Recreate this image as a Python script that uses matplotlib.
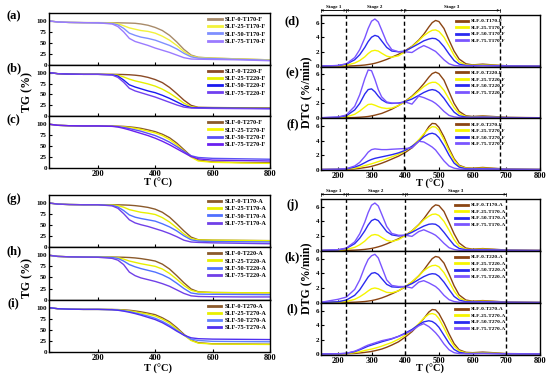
import matplotlib
matplotlib.use("Agg")
import matplotlib.pyplot as plt

plt.rcParams['font.family'] = ['Liberation Serif', 'DejaVu Serif']
plt.rcParams['font.weight'] = 'bold'

W, H = 550, 379

# temperature grids (°C)
tg_t = [30, 60, 100, 150, 200, 250, 270, 290, 310, 330, 350, 375, 400, 425, 450,
        475, 500, 525, 550, 600, 700, 800]
dtg_t = [150, 200, 225, 250, 265, 280, 290, 300, 310, 320, 330, 345, 360, 380, 400,
         420, 440, 455, 470, 480, 490, 500, 515, 530, 545, 560, 580, 600, 630, 660,
         700, 800]

# TG (%) curves, order: SLF-0, SLF-25, SLF-50, SLF-75
tg_a = [[100, 97.5, 96.5, 96, 96, 95.8, 95.6, 95.3, 95, 94.5, 93, 90, 85, 78, 67, 52, 35, 22, 17, 15, 13, 11],
        [100, 97.5, 96.5, 96, 96, 95, 93.5, 89, 84, 81, 78, 76, 72, 65, 56, 44, 30, 20, 16.5, 15, 13, 11],
        [100, 97.5, 96.5, 96, 95.5, 94, 91, 83, 72, 67, 63, 60, 56, 50, 44, 36, 26, 18, 15, 14, 12, 10],
        [100, 97.5, 96.5, 96, 95.5, 93, 87, 75, 60, 53, 49, 44, 38, 33, 28, 22, 16, 13, 12.5, 12, 11, 9]]
tg_b = [[100, 97.5, 96.5, 96, 96, 96, 95.8, 95.5, 95, 94, 92.5, 89, 84, 77, 66, 52, 37, 25, 20.5, 20, 19.5, 19],
        [100, 97.5, 96.5, 96, 96, 95.5, 94, 90, 85, 81, 78, 74, 69, 62, 53, 42, 30, 22, 20, 19.5, 19, 18.5],
        [100, 97.5, 96.5, 96, 96, 95, 92, 83, 72, 67, 63, 58, 54, 48, 41, 33, 25, 20, 19.5, 19, 18.5, 18],
        [100, 97.5, 96.5, 96, 96, 94.5, 89, 78, 64, 58, 54, 49, 44, 38, 32, 26, 21, 19, 18.5, 18, 17.5, 17]]
tg_c = [[100, 97.5, 96.5, 96, 96, 95.8, 95.5, 95, 94, 92.5, 90.5, 87, 83, 77, 69, 57, 42, 27, 18, 14, 12.5, 12],
        [100, 97.5, 96.5, 96, 96, 95.5, 95, 94, 92.5, 90.5, 88, 84, 80, 74, 65, 53, 39, 25, 16, 13, 11.5, 10.5],
        [100, 97.5, 96.5, 96, 96, 95.5, 94.5, 92.5, 90, 87, 84, 79, 74, 67, 59, 49, 38, 28, 24, 22, 21, 20],
        [100, 97.5, 96.5, 96, 96, 95, 93.5, 90.5, 87, 83, 79, 74, 68, 61, 53, 44, 35, 26, 21, 18, 17, 16]]
tg_g = [[100, 97.5, 96.5, 96, 96, 96, 95.8, 95.5, 95, 94, 92.5, 90, 86, 79, 68, 53, 37, 23, 17, 16, 15.5, 15],
        [100, 97.5, 96.5, 96, 96, 95.5, 94, 90.5, 85, 82, 79, 77, 74, 67, 57, 44, 30, 20, 16.5, 16, 15.5, 15],
        [100, 97.5, 96.5, 96, 96, 94.5, 91, 83, 73, 68, 65, 62, 59, 53, 46, 37, 26, 17, 14, 13, 12.5, 12],
        [100, 97.5, 96.5, 96, 96, 93.5, 88, 76, 62, 55, 51, 47, 42, 37, 31, 24, 16, 12, 11, 10, 9, 8]]
tg_h = [[100, 97.5, 96.5, 96, 96, 96, 95.8, 95.5, 95, 94, 92.5, 90, 87, 80, 69, 54, 38, 24, 17.5, 16, 15.5, 15.5],
        [100, 97.5, 96.5, 96, 96, 95.5, 94.5, 91.5, 87, 84, 81, 78, 75, 69, 59, 46, 32, 21, 17, 16, 15.5, 15.5],
        [100, 97.5, 96.5, 96, 96, 95, 93, 87, 79, 74, 70, 66, 62, 56, 48, 37, 25, 15, 12.5, 12, 11.5, 11],
        [100, 97.5, 96.5, 96, 95.5, 93, 89, 79, 62, 54, 49, 45, 41, 36, 30, 22, 14, 8.5, 7, 6.5, 6, 6]]
tg_i = [[100, 97.5, 96.5, 96, 96, 95.8, 95.5, 95, 94, 92.5, 90.5, 87.5, 84, 77, 68, 55, 40, 27, 21, 18.5, 18, 17.5],
        [100, 97.5, 96.5, 96, 96, 95.5, 95, 94, 92.5, 90.5, 88, 85, 81, 74, 65, 52, 38, 26, 20, 18, 17.5, 17],
        [100, 97.5, 96.5, 96, 96, 95.5, 94.5, 93, 91, 88, 85, 81, 76, 69, 60, 49, 38, 29, 26, 24, 23.5, 23],
        [100, 97.5, 96.5, 96, 96, 95, 94, 92, 89.5, 86.5, 83, 78, 73, 66, 57, 47, 38, 32, 30, 29, 28.5, 28]]

# DTG (%/min) curves, order: SLF-0, SLF-25, SLF-50, SLF-75
dtg_d = [[0.02, 0.02, 0.03, 0.08, 0.12, 0.18, 0.25, 0.32, 0.42, 0.55, 0.7, 0.95, 1.25, 1.65, 2.15, 2.75, 3.6, 4.4, 5.4, 6.0, 6.3, 6.15, 5.2, 3.6, 2.1, 1.0, 0.35, 0.2, 0.3, 0.2, 0.08, 0.03],
         [0.02, 0.05, 0.15, 0.45, 0.8, 1.3, 1.75, 2.1, 2.2, 2.1, 1.8, 1.4, 1.25, 1.45, 2.0, 2.7, 3.5, 4.2, 4.7, 4.95, 5.0, 4.8, 4.0, 2.8, 1.5, 0.6, 0.2, 0.15, 0.2, 0.15, 0.05, 0.02],
         [0.03, 0.1, 0.3, 0.9, 1.6, 2.6, 3.4, 4.0, 4.25, 4.1, 3.5, 2.6, 2.1, 2.0, 2.1, 2.6, 3.1, 3.5, 3.75, 3.85, 3.8, 3.5, 2.7, 1.7, 0.8, 0.3, 0.12, 0.1, 0.12, 0.1, 0.05, 0.02],
         [0.03, 0.12, 0.35, 1.2, 2.3, 3.9, 5.2, 6.2, 6.5, 6.1, 5.0, 3.3, 2.3, 2.0, 2.0, 1.9, 2.5, 2.85, 2.55, 2.3, 2.05, 1.6, 0.9, 0.35, 0.12, 0.06, 0.05, 0.05, 0.08, 0.06, 0.04, 0.02]]
dtg_e = [[0.02, 0.02, 0.03, 0.06, 0.1, 0.15, 0.2, 0.28, 0.38, 0.5, 0.62, 0.9, 1.2, 1.7, 2.3, 3.0, 3.9, 4.7, 5.6, 6.1, 6.3, 6.1, 5.2, 3.6, 2.0, 0.9, 0.3, 0.2, 0.28, 0.2, 0.08, 0.03],
         [0.02, 0.05, 0.15, 0.5, 0.95, 1.5, 1.85, 1.9, 1.75, 1.55, 1.4, 1.3, 1.35, 1.7, 2.25, 2.9, 3.7, 4.3, 4.75, 4.9, 4.9, 4.6, 3.8, 2.6, 1.4, 0.6, 0.2, 0.15, 0.2, 0.15, 0.05, 0.02],
         [0.03, 0.1, 0.3, 1.1, 2.0, 3.3, 3.9, 4.0, 3.6, 3.0, 2.5, 2.1, 2.0, 2.05, 2.25, 2.6, 3.1, 3.5, 3.8, 3.9, 3.8, 3.5, 2.7, 1.7, 0.8, 0.3, 0.12, 0.1, 0.12, 0.1, 0.05, 0.02],
         [0.03, 0.12, 0.4, 1.6, 3.2, 5.4, 6.6, 6.5, 5.3, 3.9, 2.9, 2.2, 2.05, 2.0, 2.2, 1.9, 3.0, 2.8, 2.5, 2.3, 2.0, 1.6, 0.9, 0.35, 0.15, 0.06, 0.05, 0.05, 0.08, 0.06, 0.04, 0.02]]
dtg_f = [[0.02, 0.03, 0.05, 0.1, 0.18, 0.28, 0.35, 0.45, 0.58, 0.72, 0.88, 1.15, 1.45, 1.85, 2.35, 3.0, 3.9, 4.8, 5.9, 6.35, 6.3, 5.8, 4.5, 2.9, 1.5, 0.6, 0.25, 0.2, 0.3, 0.2, 0.08, 0.03],
         [0.02, 0.04, 0.08, 0.2, 0.35, 0.55, 0.68, 0.8, 0.95, 1.1, 1.25, 1.5, 1.75, 2.1, 2.55, 3.2, 4.1, 4.9, 5.6, 5.9, 5.85, 5.4, 4.1, 2.6, 1.3, 0.5, 0.2, 0.15, 0.2, 0.15, 0.05, 0.02],
         [0.02, 0.05, 0.1, 0.35, 0.6, 0.95, 1.2, 1.4, 1.55, 1.65, 1.75, 1.9, 2.05, 2.3, 2.65, 3.2, 3.9, 4.5, 4.9, 5.0, 4.85, 4.4, 3.3, 2.0, 0.9, 0.35, 0.12, 0.1, 0.12, 0.1, 0.05, 0.02],
         [0.02, 0.05, 0.12, 0.5, 1.0, 1.8, 2.4, 2.75, 2.85, 2.8, 2.75, 2.75, 2.8, 2.85, 2.9, 3.0, 3.9, 3.8, 3.4, 3.1, 2.7, 2.1, 1.2, 0.5, 0.2, 0.08, 0.05, 0.05, 0.08, 0.06, 0.04, 0.02]]
dtg_j = [[0.02, 0.02, 0.03, 0.07, 0.11, 0.17, 0.23, 0.3, 0.4, 0.52, 0.66, 0.92, 1.22, 1.62, 2.1, 2.7, 3.55, 4.35, 5.3, 5.9, 6.25, 6.15, 5.35, 3.85, 2.3, 1.05, 0.35, 0.2, 0.28, 0.2, 0.08, 0.03],
         [0.02, 0.05, 0.15, 0.45, 0.8, 1.3, 1.75, 2.1, 2.2, 2.1, 1.8, 1.4, 1.25, 1.5, 2.05, 2.7, 3.5, 4.2, 4.7, 4.95, 5.0, 4.8, 4.0, 2.8, 1.5, 0.6, 0.2, 0.15, 0.2, 0.15, 0.05, 0.02],
         [0.03, 0.1, 0.3, 0.95, 1.7, 2.7, 3.5, 4.1, 4.3, 4.1, 3.5, 2.6, 2.15, 2.0, 2.1, 2.5, 3.0, 3.35, 3.6, 3.65, 3.6, 3.3, 2.5, 1.6, 0.75, 0.3, 0.12, 0.1, 0.12, 0.1, 0.05, 0.02],
         [0.03, 0.12, 0.35, 1.2, 2.3, 3.9, 5.2, 6.2, 6.5, 6.1, 5.0, 3.3, 2.35, 2.1, 2.1, 1.95, 2.6, 2.85, 2.55, 2.35, 2.1, 1.7, 1.0, 0.4, 0.15, 0.06, 0.05, 0.05, 0.08, 0.06, 0.04, 0.02]]
dtg_k = [[0.02, 0.02, 0.03, 0.06, 0.1, 0.15, 0.21, 0.28, 0.38, 0.5, 0.64, 0.9, 1.2, 1.62, 2.15, 2.8, 3.65, 4.45, 5.4, 6.0, 6.3, 6.2, 5.4, 3.9, 2.3, 1.05, 0.35, 0.2, 0.28, 0.2, 0.08, 0.03],
         [0.02, 0.05, 0.15, 0.45, 0.8, 1.25, 1.6, 1.9, 2.0, 1.9, 1.7, 1.4, 1.35, 1.6, 2.2, 2.85, 3.65, 4.35, 4.85, 5.05, 5.1, 4.9, 4.1, 2.9, 1.6, 0.65, 0.2, 0.15, 0.2, 0.15, 0.05, 0.02],
         [0.03, 0.12, 0.35, 1.0, 1.75, 2.8, 3.5, 4.0, 4.1, 3.85, 3.3, 2.5, 2.15, 2.1, 2.2, 2.6, 3.15, 3.55, 3.85, 3.95, 3.9, 3.6, 2.8, 1.8, 0.85, 0.35, 0.12, 0.1, 0.12, 0.1, 0.05, 0.02],
         [0.05, 0.45, 0.75, 1.8, 3.1, 4.9, 5.9, 6.4, 6.6, 6.1, 4.9, 3.1, 2.35, 2.2, 2.2, 2.0, 2.8, 3.0, 2.7, 2.45, 2.2, 1.8, 1.0, 0.4, 0.15, 0.06, 0.05, 0.05, 0.08, 0.06, 0.04, 0.02]]
dtg_l = [[0.02, 0.03, 0.05, 0.1, 0.16, 0.24, 0.3, 0.37, 0.47, 0.58, 0.7, 0.95, 1.25, 1.7, 2.35, 3.1, 4.05, 4.9, 5.8, 6.15, 6.1, 5.6, 4.3, 2.8, 1.45, 0.6, 0.25, 0.2, 0.28, 0.2, 0.08, 0.03],
         [0.02, 0.04, 0.08, 0.2, 0.33, 0.5, 0.6, 0.7, 0.82, 0.95, 1.1, 1.35, 1.6, 2.05, 2.6, 3.3, 4.2, 4.95, 5.5, 5.6, 5.45, 4.9, 3.6, 2.2, 1.1, 0.45, 0.18, 0.15, 0.2, 0.15, 0.05, 0.02],
         [0.02, 0.05, 0.1, 0.35, 0.6, 0.9, 1.1, 1.25, 1.4, 1.55, 1.7, 1.9, 2.1, 2.45, 2.9, 3.4, 4.05, 4.45, 4.6, 4.5, 4.2, 3.7, 2.6, 1.5, 0.65, 0.25, 0.1, 0.1, 0.12, 0.1, 0.05, 0.02],
         [0.02, 0.05, 0.12, 0.4, 0.7, 1.05, 1.25, 1.4, 1.55, 1.7, 1.85, 2.0, 2.15, 2.45, 2.8, 3.25, 3.9, 4.2, 3.8, 3.4, 2.95, 2.4, 1.4, 0.6, 0.2, 0.08, 0.05, 0.05, 0.08, 0.06, 0.04, 0.02]]

loadings = ['0', '25', '50', '75']
stage_names = ['Stage 1', 'Stage 2', 'Stage 3']
stage_f = [150, 225, 395, 680]
stage_a = [150, 225, 400, 700]

pal_a = ['#A88B6A', '#F2F23A', '#7F8FFF', '#9B7BFF']
pal_b = ['#8B4A26', '#E6F000', '#1A1AF0', '#7040F0']
pal_c = ['#8B5A2B', '#F5F500', '#5A50F5', '#6A20F0']
pal_g = ['#8B5A2B', '#E8F000', '#5070FF', '#7040E8']
pal_i = ['#8B5A2B', '#E8F000', '#6080FF', '#5030F0']
pal_dtg = ['#8B4513', '#F5F500', '#2A2AF0', '#7A55FF']


def px_axes(fig, x0, y0, x1, y1):
    return fig.add_axes([x0 / W, 1 - y1 / H, (x1 - x0) / W, (y1 - y0) / H])


def style(ax, bottom):
    for s in ax.spines.values():
        s.set_linewidth(1.0)
    ax.tick_params(direction='in', length=2.5, width=0.8, labelsize=5, pad=1.5)
    ax.tick_params(axis='x', labelsize=6)
    if not bottom:
        ax.tick_params(axis='x', labelbottom=False)


def tg_panel(ax, tag, data, cols, suffix, bottom):
    for k in range(4):
        ax.plot(tg_t, data[k], color=cols[k], lw=1.0, label=f'SLF-{loadings[k]}-{suffix}')
    ax.set_xlim(30, 800)
    ax.set_ylim(0, 118)
    ax.set_xticks([200, 400, 600, 800])
    ax.set_yticks([0, 25, 50, 75, 100])
    style(ax, bottom)
    leg = ax.legend(loc='upper right', frameon=False, fontsize=4.5, handlelength=2.2,
                    labelspacing=0.3, borderaxespad=0.2, handletextpad=0.5)
    for ln in leg.get_lines():
        ln.set_linewidth(2.0)
    ax.text(-0.16, 0.93, tag, transform=ax.transAxes, fontsize=9, ha='center', va='center')


def dtg_panel(ax, tag, data, suffix, vlines, bottom):
    for k in range(4):
        ax.plot(dtg_t, data[k], color=pal_dtg[k], lw=1.0, label=f'SLF-{loadings[k]}-{suffix}')
    for v in vlines[1:]:
        ax.axvline(v, color='k', ls=(0, (3, 2)), lw=1.0)
    ax.set_xlim(150, 800)
    ax.set_ylim(-0.05, 7.05)
    ax.set_xticks([200, 300, 400, 500, 600, 700, 800])
    ax.set_yticks([0, 2, 4, 6])
    style(ax, bottom)
    leg = ax.legend(loc='upper right', bbox_to_anchor=(0.86, 1.0), frameon=False, fontsize=3.8,
                    handlelength=2.4, labelspacing=0.35, borderaxespad=0.3, handletextpad=0.5)
    for ln in leg.get_lines():
        ln.set_linewidth(2.0)
    ax.text(-0.13, 0.88, tag, transform=ax.transAxes, fontsize=9, ha='center', va='center')


def stage_bar(ax, edges):
    trans = ax.get_xaxis_transform()
    y = 1.09
    ax.plot([edges[0], edges[-1]], [y, y], transform=trans, color='k', lw=0.5, clip_on=False)
    for a, b, name in zip(edges[:-1], edges[1:], stage_names):
        ax.annotate('', xy=(a, y), xytext=(b, y), xycoords=trans, textcoords=trans,
                    arrowprops=dict(arrowstyle='<->', lw=0.5, mutation_scale=3,
                                    shrinkA=0, shrinkB=0), annotation_clip=False)
        ax.text((a + b) / 2, y + 0.02, name, transform=trans, fontsize=3.6,
                ha='center', va='bottom')
    for e in edges:
        ax.plot([e, e], [y - 0.03, y + 0.03], transform=trans, color='k', lw=0.5, clip_on=False)


fig = plt.figure(figsize=(W / 100, H / 100), dpi=100)

# left column, TG
ax = px_axes(fig, 49, 13, 270, 64.7)
tg_panel(ax, '(a)', tg_a, pal_a, 'T170-F', False)
ax = px_axes(fig, 49, 64.7, 270, 116.3)
tg_panel(ax, '(b)', tg_b, pal_b, 'T220-F', False)
ax = px_axes(fig, 49, 116.3, 270, 168)
tg_panel(ax, '(c)', tg_c, pal_c, 'T270-F', True)

ax = px_axes(fig, 49, 195, 270, 247.3)
tg_panel(ax, '(g)', tg_g, pal_g, 'T170-A', False)
ax = px_axes(fig, 49, 247.3, 270, 299.6)
tg_panel(ax, '(h)', tg_h, pal_g, 'T220-A', False)
ax = px_axes(fig, 49, 299.6, 270, 352)
tg_panel(ax, '(i)', tg_i, pal_i, 'T270-A', True)

# right column, DTG
ax = px_axes(fig, 321, 15, 540, 66.7)
dtg_panel(ax, '(d)', dtg_d, 'T170-F', stage_f, False)
stage_bar(ax, stage_f)
ax = px_axes(fig, 321, 66.7, 540, 118.3)
dtg_panel(ax, '(e)', dtg_e, 'T220-F', stage_f, False)
ax = px_axes(fig, 321, 118.3, 540, 170)
dtg_panel(ax, '(f)', dtg_f, 'T270-F', stage_f, True)

ax = px_axes(fig, 321, 199, 540, 251)
dtg_panel(ax, '(j)', dtg_j, 'T170-A', stage_a, False)
stage_bar(ax, stage_a)
ax = px_axes(fig, 321, 251, 540, 303)
dtg_panel(ax, '(k)', dtg_k, 'T220-A', stage_a, False)
ax = px_axes(fig, 321, 303, 540, 354.5)
dtg_panel(ax, '(l)', dtg_l, 'T270-A', stage_a, True)

# shared axis labels
for yc in (92, 278):
    fig.text(27 / W, 1 - yc / H, 'TG (%)', rotation=90, fontsize=8.5, ha='center', va='center')
    fig.text(306 / W, 1 - yc / H, 'DTG (%/min)', rotation=90, fontsize=8.5, ha='center', va='center')
for xc, yc in ((158, 183), (430, 184), (158, 369), (430, 369)):
    fig.text(xc / W, 1 - yc / H, 'T (°C)', fontsize=7.5, ha='center', va='center')

fig.savefig('out.png', dpi=100)
